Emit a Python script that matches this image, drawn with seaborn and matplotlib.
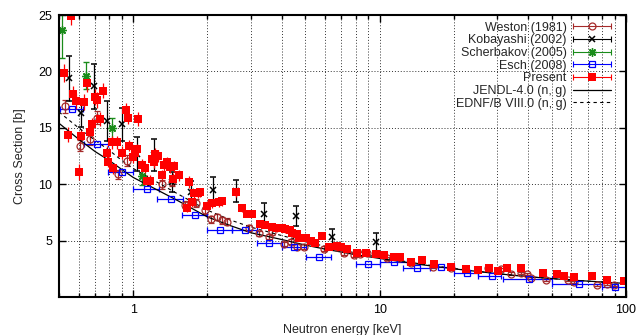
import matplotlib
matplotlib.use('Agg')
import matplotlib.pyplot as plt
import seaborn as sns
from matplotlib.container import ErrorbarContainer
from matplotlib.legend_handler import HandlerBase
from matplotlib.lines import Line2D
from matplotlib.ticker import NullFormatter

# ---- data (energy in keV, cross section in b) ----
weston_e = [0.53, 0.61, 0.665, 0.71, 0.87, 0.94, 1.31, 1.44, 1.63, 1.79, 1.96, 2.06, 2.19,
            2.29, 2.4, 2.94, 3.23, 3.55, 3.66, 4.08, 4.35, 4.63, 4.93, 5.94, 6.72, 7.14,
            7.85, 8.36, 8.9, 10.7, 12.0, 13.4, 16.4, 19.4, 27.5, 31.0, 34.0, 37.5, 39.8,
            41.0, 47.5, 57.9, 61.7, 76.5, 84.0, 89.6]
weston_xs = [16.9, 13.4, 14.0, 15.9, 10.9, 12.1, 10.0, 10.2, 8.2, 8.3, 7.7, 6.9, 7.1,
             6.8, 6.67, 6.1, 5.64, 5.35, 5.73, 4.7, 4.9, 4.47, 4.47, 4.3, 4.47, 3.88,
             3.7, 3.79, 3.88, 3.44, 3.44, 3.0, 2.7, 2.6, 2.6, 2.47, 2.08, 2.1, 2.03,
             1.7, 1.5, 1.53, 1.35, 1.08, 1.15, 1.08]
weston_err = [0.6, 0.5, 0.5, 0.6, 0.4, 0.5, 0.4, 0.4, 0.35, 0.35, 0.3, 0.3, 0.3,
              0.3, 0.3, 0.25, 0.25, 0.25, 0.25, 0.2, 0.2, 0.2, 0.2, 0.2, 0.2, 0.18,
              0.18, 0.18, 0.18, 0.15, 0.15, 0.15, 0.12, 0.12, 0.12, 0.12, 0.1, 0.1, 0.1,
              0.1, 0.08, 0.08, 0.08, 0.06, 0.06, 0.06]

koba_e = [0.55, 0.615, 0.694, 0.782, 0.90, 1.035, 1.21, 1.44, 1.72, 2.11, 2.62, 3.39,
          4.56, 6.42, 9.63]
koba_xs = [19.4, 16.3, 18.7, 15.6, 15.3, 12.7, 12.6, 10.2, 9.3, 9.5, 9.4, 7.4,
           7.2, 5.3, 4.9]
koba_err = [2.0, 1.2, 2.0, 1.75, 1.5, 1.5, 1.4, 0.9, 1.0, 1.1, 1.0, 0.9,
            0.9, 0.7, 0.8]

scherb_e = [0.516, 0.644, 0.824, 1.09]
scherb_xs = [23.7, 19.6, 14.95, 10.7]
scherb_err = [2.5, 1.2, 0.9, 0.8]

esch_e = [0.563, 0.712, 0.90, 1.137, 1.42, 1.786, 2.24, 2.83, 3.57, 4.51, 5.67, 8.95,
          11.4, 14.2, 17.8, 22.7, 28.5, 40.4, 64.3, 90.0]
esch_xs = [16.7, 13.6, 11.1, 9.6, 8.66, 7.25, 5.93, 5.93, 4.82, 4.47, 3.52, 2.9,
           3.14, 2.56, 2.62, 2.17, 1.82, 1.61, 1.15, 0.85]
esch_lo = [0.505, 0.63, 0.79, 1.0, 1.25, 1.58, 2.0, 2.52, 3.17, 4.0, 5.05, 8.0,
           10.0, 12.5, 16.0, 20.0, 25.0, 31.6, 50.0, 80.0]
esch_hi = [0.626, 0.79, 1.0, 1.27, 1.59, 2.0, 2.52, 3.17, 4.0, 5.05, 6.35, 10.0,
           12.9, 16.0, 20.0, 25.0, 31.0, 50.0, 80.0, 100.0]

present_e = [0.524, 0.546, 0.558, 0.572, 0.585, 0.600, 0.615, 0.632, 0.648, 0.669, 0.680,
             0.700, 0.712, 0.730, 0.757, 0.782, 0.790, 0.824, 0.830, 0.858, 0.900, 0.935,
             0.950, 0.960, 1.00, 1.02, 1.035, 1.05, 1.09, 1.12, 1.14, 1.17, 1.19, 1.21,
             1.23, 1.26, 1.31, 1.33, 1.37, 1.41, 1.45, 1.47, 1.53, 1.66, 1.68, 1.73, 1.76,
             1.84, 1.87, 1.99, 2.09, 2.22, 2.29, 2.62, 2.77, 2.90, 3.04, 3.28, 3.44, 3.66,
             3.83, 4.02, 4.15, 4.31, 4.42, 4.63, 4.69, 5.05, 5.25, 5.45, 5.84, 6.22, 6.72,
             7.0, 7.39, 8.1, 8.77, 9.63, 10.4, 11.4, 12.1, 13.4, 14.9, 16.6, 19.4, 22.4,
             25.0, 27.8, 30.1, 33.0, 37.5, 45.9, 52.6, 56.0, 61.7, 72.6, 84.0, 98.0]
present_xs = [19.9, 14.4, 24.9, 18.0, 17.4, 11.1, 14.3, 17.3, 19.0, 14.6, 15.3,
              17.7, 17.5, 15.8, 18.3, 12.8, 12.0, 13.7, 11.4, 13.7, 12.8, 16.6,
              15.9, 13.4, 12.4, 12.8, 13.1, 15.8, 11.7, 11.4, 10.3, 10.3, 12.2, 11.95,
              12.7, 12.5, 10.8, 11.7, 11.95, 11.5, 10.5, 11.6, 10.8, 7.9, 10.2, 8.4, 9.2,
              9.2, 9.3, 8.1, 8.3, 8.4, 8.5, 9.3, 7.85, 7.4, 7.4, 6.5, 6.4, 6.2,
              6.1, 6.08, 6.0, 5.93, 5.64, 5.6, 5.2, 5.2, 5.0, 4.76, 5.4, 4.4, 4.5,
              4.45, 4.3, 3.88, 3.88, 3.8, 3.73, 3.58, 3.58, 3.14, 3.25, 2.9, 2.7, 2.5,
              2.4, 2.55, 2.32, 2.55, 2.6, 2.15, 2.03, 1.9, 1.74, 1.82, 1.55, 1.4]
present_err = [0.8, 0.7, 0.8, 0.7, 0.7, 0.7, 0.6, 0.7, 0.8, 0.6, 0.6,
               0.7, 0.7, 0.6, 0.7, 0.6, 0.5, 0.6, 0.5, 0.6, 0.6, 0.6,
               0.6, 0.5, 0.5, 0.5, 0.5, 0.6, 0.5, 0.5, 0.5, 0.5, 0.5, 0.5,
               0.5, 0.5, 0.5, 0.5, 0.5, 0.5, 0.5, 0.5, 0.5, 0.4, 0.5, 0.4, 0.4,
               0.4, 0.4, 0.4, 0.4, 0.4, 0.4, 0.4, 0.35, 0.35, 0.35, 0.3, 0.3, 0.3,
               0.3, 0.3, 0.3, 0.3, 0.3, 0.25, 0.25, 0.25, 0.25, 0.25, 0.25, 0.2, 0.2,
               0.2, 0.2, 0.2, 0.2, 0.2, 0.2, 0.2, 0.2, 0.15, 0.15, 0.15, 0.15, 0.12,
               0.12, 0.12, 0.12, 0.12, 0.12, 0.1, 0.1, 0.1, 0.1, 0.1, 0.08, 0.08]

jendl_e = [0.5, 0.6, 0.7, 0.8, 0.9, 1.0, 1.2, 1.5, 2.0, 2.5, 3.0, 4.0, 5.0, 6.0, 8.0,
           10, 15, 20, 30, 40, 60, 100]
jendl_xs = [15.4, 14.0, 12.9, 12.1, 11.3, 10.6, 9.7, 8.6, 7.1, 6.3, 5.7, 5.1, 4.6, 4.25, 3.75,
            3.42, 2.85, 2.5, 2.07, 1.8, 1.5, 1.2]
endf_e = [0.5, 0.6, 0.7, 0.8, 0.9, 1.0, 1.2, 1.5, 2.0, 2.5, 3.0, 4.0, 5.0, 6.0, 8.0,
          10, 15, 20, 30, 40, 60, 100]
endf_xs = [16.4, 15.0, 13.9, 13.0, 12.1, 11.4, 10.4, 9.2, 7.7, 6.8, 6.2, 5.45, 4.9, 4.5, 3.9,
           3.52, 2.9, 2.53, 2.08, 1.8, 1.5, 1.2]

x_ticks = [1, 10, 100]
x_tick_labels = ['1', '10', '100']
y_ticks = [5, 10, 15, 20, 25]


# gnuplot-like legend key: horizontal bar with caps and the point in the middle
class KeyHandler(HandlerBase):
    def create_artists(self, legend, orig_handle, xdescent, ydescent,
                       width, height, fontsize, trans):
        ln = orig_handle.lines[0]
        c = ln.get_color()
        y = (height - ydescent) / 2
        x0, x1 = -xdescent, width - xdescent
        bar = Line2D([x0, x1], [y, y], color=c, lw=0.8, transform=trans)
        caps = Line2D([x0, x1], [y, y], ls='none', marker='|', ms=5, mew=0.8,
                      color=c, transform=trans)
        pt = Line2D([(x0 + x1) / 2], [y], ls='none', marker=ln.get_marker(),
                    ms=ln.get_markersize(), mfc=ln.get_markerfacecolor(),
                    mec=ln.get_markeredgecolor(), mew=ln.get_markeredgewidth(),
                    transform=trans)
        return [bar, caps, pt]


sns.set_theme(style='ticks')
plt.rcParams['font.family'] = ['Liberation Sans', 'DejaVu Sans']

fig = plt.figure(figsize=(6.36, 3.35), dpi=100)
ax = fig.add_axes([0.0928, 0.1134, 0.8915, 0.8418])
ax.set_xscale('log')
ax.set_axisbelow(True)

eb = dict(ls='none', capsize=2.5, elinewidth=0.9, capthick=0.9)
h1 = ax.errorbar(weston_e, weston_xs, yerr=weston_err, color='#a52a2a', marker='o',
                 ms=5, mfc='none', mew=0.9, label='Weston (1981)', **eb)
h2 = ax.errorbar(koba_e, koba_xs, yerr=koba_err, color='black', marker='x',
                 ms=4.5, mew=1.1, label='Kobayashi (2002)', **eb)
h3 = ax.errorbar(scherb_e, scherb_xs, yerr=scherb_err, color='#1a8c1a', marker=(8, 2, 0),
                 ms=6, mew=1.0, label='Scherbakov (2005)', **eb)
esch_xerr = [[e - lo for e, lo in zip(esch_e, esch_lo)],
             [hi - e for e, hi in zip(esch_e, esch_hi)]]
h4 = ax.errorbar(esch_e, esch_xs, xerr=esch_xerr, color='#0000ff', marker='s',
                 ms=5, mfc='none', mew=0.9, label='Esch (2008)', **eb)
h5 = ax.errorbar(present_e, present_xs, yerr=present_err, color='#ff0000', marker='s',
                 ms=5.8, mew=0, label='Present', **eb)

sns.lineplot(x=jendl_e, y=jendl_xs, ax=ax, color='black', lw=0.9,
             estimator=None, sort=False, label='JENDL-4.0 (n, g)')
h6 = ax.lines[-1]
sns.lineplot(x=endf_e, y=endf_xs, ax=ax, color='black', lw=0.8,
             estimator=None, sort=False, label='EDNF/B VIII.0 (n, g)')
h7 = ax.lines[-1]
h7.set_dashes((3, 3))

ax.set_xlim(0.5, 100)
ax.set_ylim(0, 25)
ax.set_xticks(x_ticks, labels=x_tick_labels)
ax.xaxis.set_minor_formatter(NullFormatter())
ax.set_yticks(y_ticks)

ax.grid(which='major', axis='both', ls=(0, (1, 2)), color='0.2', lw=0.7)
ax.grid(which='minor', axis='x', ls=(0, (1, 2)), color='0.2', lw=0.7)
ax.tick_params(which='both', direction='in', top=True, right=True, colors='black',
               labelsize=9, width=1.0)
ax.tick_params(which='major', length=5, pad=5)
ax.tick_params(which='minor', length=3)
for sp in ax.spines.values():
    sp.set_linewidth(1.5)
    sp.set_color('black')

ax.set_xlabel('Neutron energy [keV]', fontsize=9, labelpad=6)
ax.set_ylabel('Cross Section [b]', fontsize=9, labelpad=9)

leg = ax.legend([h1, h2, h3, h4, h5, h6, h7],
                ['Weston (1981)', 'Kobayashi (2002)', 'Scherbakov (2005)', 'Esch (2008)',
                 'Present', 'JENDL-4.0 (n, g)', 'EDNF/B VIII.0 (n, g)'],
                handler_map={ErrorbarContainer: KeyHandler()},
                loc='upper right', bbox_to_anchor=(0.9735, 0.976), borderaxespad=0,
                borderpad=0, frameon=False, markerfirst=False, fontsize=9,
                handlelength=3.0, handletextpad=0.55, labelspacing=0.05)

fig.savefig('out.png', dpi=100)
